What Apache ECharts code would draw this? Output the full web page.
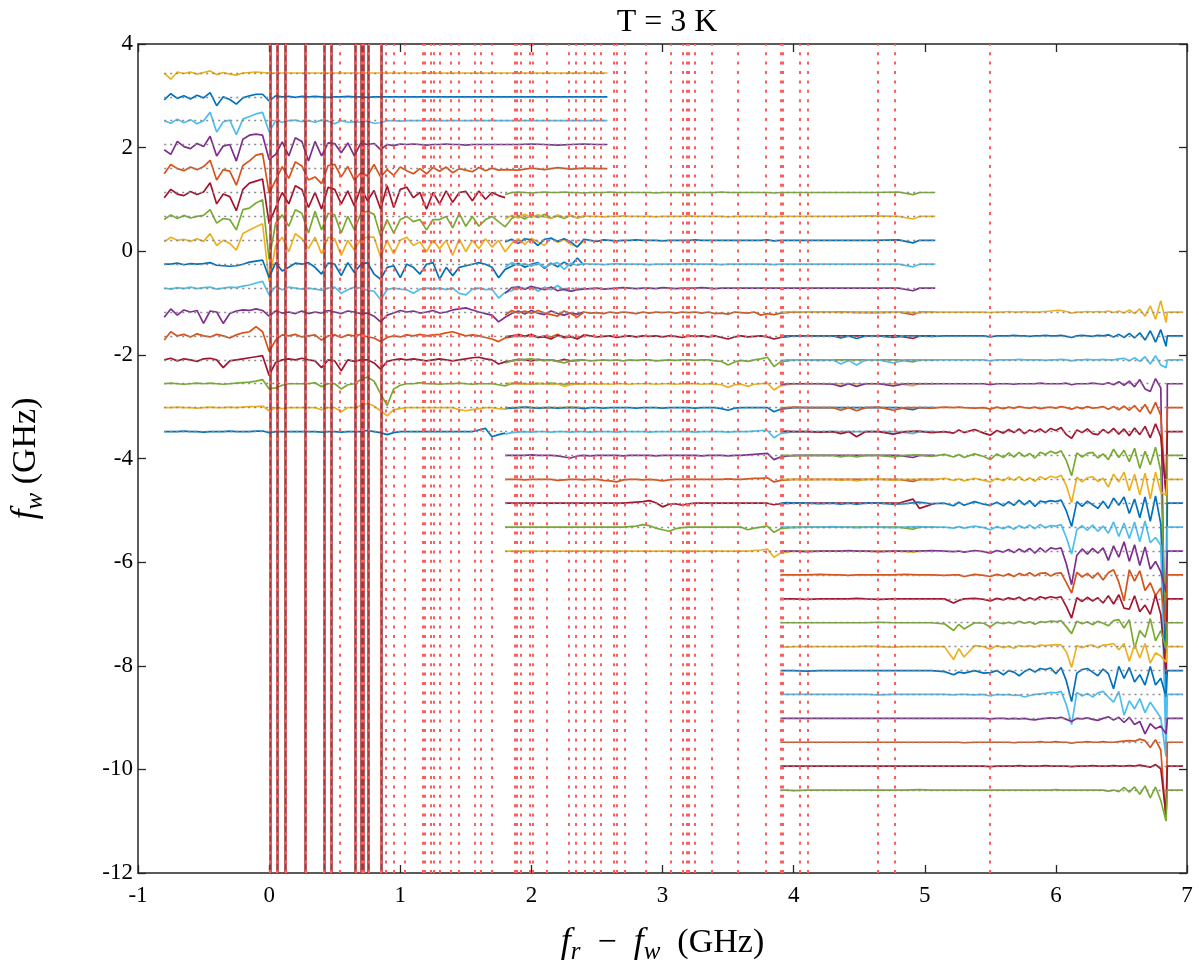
<!DOCTYPE html>
<html><head><meta charset="utf-8">
<script src="https://cdn.jsdelivr.net/npm/echarts/dist/echarts.min.js"></script>
<style>html,body{margin:0;padding:0;background:#fff}#c{width:1199px;height:974px}</style>
</head><body><div id="c"></div>
<script>
// f_w value (GHz) of each trace level, top to bottom
const fwLevels = [3.44, 2.98, 2.52, 2.06, 1.595, 1.134, 0.672, 0.211, -0.250, -0.712, -1.173, -1.634, -2.096, -2.557, -3.018, -3.480, -3.941, -4.402, -4.863, -5.325, -5.786, -6.247, -6.709, -7.170, -7.631, -8.093, -8.554, -9.015, -9.476, -9.938, -10.399];

// x samples (f_r - f_w, GHz) of the three measurement windows
const gridA = [-0.80,-0.75,-0.70,-0.65,-0.60,-0.55,-0.50,-0.45,-0.40,-0.35,-0.30,-0.25,-0.20,-0.15,-0.10,-0.05,0.00,0.05,0.10,0.15,0.20,0.25,0.30,0.35,0.40,0.45,0.50,0.55,0.60,0.65,0.70,0.75,0.80,0.85,0.90,0.95,1.00,1.05,1.10,1.15,1.20,1.25,1.30,1.35,1.40,1.45,1.50,1.55,1.60,1.65,1.70,1.75,1.80];
const tailA = [1.90,2.00,2.10,2.20,2.30,2.40,2.50,2.58];
const tailA2 = [1.85,1.90,1.95,2.00,2.05,2.10,2.15,2.20,2.25,2.30,2.35,2.40];
const gridB = [1.80,1.85,1.90,1.95,2.00,2.05,2.10,2.15,2.20,2.25,2.30,2.35,2.40,2.45,2.50,2.55,2.60,2.65,2.70,2.75,2.80,2.85,2.90,2.95,3.00,3.05,3.10,3.15,3.20,3.25,3.30,3.35,3.40,3.45,3.50,3.55,3.60,3.65,3.70,3.75,3.80,3.85,3.90];
const extB = [4.00,4.20,4.40,4.60,4.80,4.91,4.96,5.08];
const gridC1 = [3.90,3.95,4.00,4.10,4.20,4.30,4.36,4.42,4.48,4.55,4.65,4.76,4.85,4.95,5.05,5.15,5.22,5.26,5.30,5.38,5.45,5.50,5.55];
const gridC2 = [5.60,5.64,5.68,5.72,5.76,5.80,5.84,5.88,5.92,5.96,6.00,6.04,6.08,6.12,6.16,6.20,6.24,6.28,6.32,6.36,6.40,6.44,6.48,6.52,6.56,6.60,6.64,6.68,6.72,6.76,6.80,6.84];
const endC = [6.85, 6.97];
const endDevC = [0, 0];

// trace colours (MATLAB palette keys)
const colorsA = ['Y','B','LB','P','O','DR','G','Y','B','LB','P','O','DR','G','Y','B'];          // levels 0..15
const colorsB = ['G','Y','B','LB','P','O','DR','G','Y','B','LB','P','O','DR','G','Y'];          // levels 5..20
const colorsC = ['Y','B','LB','P','O','DR','G','Y','B','LB','P','O','DR','G','Y','B','LB','P','O','DR','G']; // levels 10..30

// deviations from the level, in units of 0.01 GHz
const devA = [
[0,-12,2,-1,2,-2,1,4,-3,1,-2,-4,0,1,2,1,0, 0,0,0,0,0,0,0,0,0,0,0,0,0,0,0,0,0,0,0,0,0,0,0,0,0,0,0,0,0,0,0,0,0,0,0,0,0],
[-6,6,-3,2,-4,3,-2,8,-17,0,-5,-14,-2,2,5,5,-8, 2,0,1,-1,1,0,1,0,-1,0,0,1,0,0,-1,0,0,0,0,0,0,0,0,0,0,0,0,0,0,0,0,0,0,0,0,0],
[0,-5,3,-4,2,-6,0,16,-22,-2,1,-27,3,8,13,16,-22, 0,-3,0,1,-2,0,-3,1,-1,-6,0,-3,-2,-3,-1,-5,-4,0,0,-1,0,0,0,0,0,0,0,0,0,0,0,0,0,0,0,0],
[-10,-19,6,-4,-8,2,-4,16,-22,-3,0,-32,10,18,20,18,-29, -19,5,-22,13,6,-32,6,-22,3,2,-16,3,-22,3,0,2,-10,0,-2,1,0,1,0,-1,0,0,1,0,0,-1,0,0,0,0,0,0],
[-10,8,0,-4,3,-2,4,16,-22,-2,-5,-32,6,15,26,29,-48, -22,4,-19,13,5,-22,-16,-29,6,8,-16,4,-22,-8,-14,8,-16,-2,-13,3,-4,-10,0,-10,2,-5,3,-8,0,-3,-6,2,-4,1,-3,-2],
[-10,6,-3,-6,2,-4,1,19,-22,-3,-8,-35,6,18,22,26,-60, -29,0,-22,13,6,-29,0,-32,10,6,-22,3,-26,10,-16,4,-32,13,-29,6,10,-10,0,-32,0,-22,3,-19,0,2,-16,3,-13,0,-6,-10],
[-6,3,-4,2,-3,0,2,13,-13,-4,-6,-26,13,16,26,32,-83, -13,3,-19,13,6,-32,10,-26,6,3,-32,0,-26,6,10,4,-38,-6,-32,-6,0,-10,-6,-26,-6,-6,0,-22,6,-19,0,-19,-6,0,-10,-20],
[-3,6,0,2,-2,3,-2,13,-10,0,-6,-19,13,20,26,32,-80, -10,6,-22,13,3,-16,6,-26,6,3,-29,0,-19,3,6,6,-32,0,-26,0,6,-10,-3,-22,0,-16,0,-29,3,-22,0,-16,3,-13,0,-22],
[0,0,2,-1,1,0,1,3,-2,-3,-4,-3,0,4,6,8,-26, 3,-13,-6,2,0,3,-6,-19,2,0,-22,3,-16,0,3,-19,-29,-6,-3,-26,0,-6,-19,0,3,-29,-6,-22,-6,-3,0,3,0,-6,-26,-10],
[0,-2,1,-1,2,-1,1,2,-2,0,2,1,4,6,10,13,-13, 3,-3,2,0,-2,0,-2,-4,0,2,-10,-3,2,0,-4,-6,-22,-3,0,-2,-3,-10,-2,0,-2,0,-3,0,-10,-13,-2,0,-3,-2,-19,-8],
[-10,6,-6,4,0,3,-22,2,0,-22,-3,2,4,3,6,3,-8, 2,-2,0,-3,2,-3,0,-2,3,0,-3,2,0,-3,-2,-8,-19,-6,-2,3,0,2,-2,0,3,-2,0,4,6,8,4,0,-3,-6,-19,-10],
[-8,8,0,3,-2,4,0,-2,3,0,-4,2,6,8,18,8,-30, -8,2,0,3,-2,0,2,-8,0,2,-3,2,0,3,-2,-4,-11,-3,0,-2,2,0,3,0,2,3,6,8,4,0,2,0,-3,-6,-11,-4],
[0,3,-2,2,0,-3,2,3,0,-15,-2,0,2,4,6,8,-30, -5,0,2,0,3,0,-2,-15,0,-2,-21,0,-3,0,0,-6,-18,-3,0,2,0,2,0,-2,0,2,0,-2,0,2,4,5,2,0,-8,-4],
[0,1,0,-1,0,1,0,1,0,-1,0,1,2,3,5,8,-10, -8,-3,0,0,0,0,2,-6,0,0,-10,-2,0,8,13,5,-19,-42,-10,-3,0,0,2,0,0,-1,0,0,1,0,-1,0,0,0,-2,-4],
[0,0,1,0,0,-1,0,1,0,0,1,0,1,2,2,3,-6, 0,-2,0,0,0,0,0,-4,0,0,-8,0,0,4,8,3,-6,-16,-4,-2,0,0,0,0,0,0,0,0,-4,-6,-4,-2,0,0,-2,-3],
[0,0,0,1,0,0,-1,0,0,0,1,0,0,0,1,1,-2, 0,0,0,0,0,0,0,-1,0,0,-1,0,0,0,2,0,-2,-6,-2,0,0,0,0,0,0,0,0,0,0,0,0,3,6,-10,-6,-3]
];
// levels 0..4 continue flat to 2.58
const devAtail = [
[0,0,0,0,0,0,0,0],
[0,0,0,0,0,0,0,0],
[0,0,0,0,0,0,0,0],
[0,1,0,-1,0,1,0,0],
[-3,1,-2,2,-1,1,0,0]
];
// levels 6..14 continue (under window B) to 2.40
const devAtail2 = [
[-4,2,-5,3,-2,4,-3,1,-4,2,-3,0],
[-6,3,-8,4,-3,-10,5,-4,2,-8,-12,-2],
[-4,2,-6,0,3,-8,2,-5,4,-3,12,-2],
[-5,3,-2,4,-6,2,-3,5,-4,-6,-3,0],
[-3,2,-4,3,-2,-5,2,-3,-6,-2,-4,0],
[-2,3,-1,2,-3,0,-2,3,-4,-2,-5,0],
[-2,1,0,-2,1,-1,0,-3,1,-2,-1,0],
[0,1,0,-1,0,0,1,0,-1,0,0,0],
[0,0,1,0,0,-1,0,0,0,1,0,0]
];
const devB = [
[-4,0,1,0,-1,0,1,0,0,1,0,0,-1,0,0,0,1,0,0,0,0,0,0,-1,0,0,0,0,0,0,0,0,0,1,0,0,0,0,0,0,0,-1,0],
[-5,2,-3,4,-2,3,-1,-4,3,-2,2,-3,1,0,0,-1,0,0,1,0,0,0,0,-1,0,0,0,0,1,0,0,0,0,0,-1,0,0,0,0,0,0,-1,0],
[-3,2,-6,3,1,-10,2,4,-2,3,-3,-13,2,0,-2,1,0,-1,0,0,1,0,0,0,-1,0,0,0,0,1,0,0,0,0,0,0,0,0,0,0,1,-1,0],
[-6,3,-2,1,-4,2,-6,0,3,-10,2,-2,1,0,0,-1,0,1,0,0,0,0,-1,0,0,0,0,0,1,0,0,0,0,-1,0,0,0,0,0,0,0,-1,0],
[-10,1,2,-2,3,0,-3,2,-5,-2,-6,-3,-2,-1,0,-2,-1,0,1,0,-1,0,0,-1,1,0,-1,0,0,0,1,0,-1,0,0,0,0,0,0,0,0,0,0],
[-6,3,-2,2,-3,3,-2,-5,-8,2,-3,-10,0,-2,-1,-3,0,-2,0,-1,-3,0,-2,0,-1,0,-2,0,-1,0,-2,0,-3,-2,-4,0,-1,-2,0,-6,-3,-5,-2],
[-2,0,2,-1,3,-3,-2,-6,1,-2,-1,-6,2,0,-2,-1,0,-3,-1,0,-2,0,-1,0,-2,0,-1,-3,0,-1,0,-2,0,-3,-6,-2,0,-2,-1,0,-2,-6,-3],
[-6,-2,0,1,2,0,-1,0,-3,-6,-2,-1,0,-2,-1,0,-1,0,-2,0,-1,0,0,-2,-1,0,-1,0,0,-1,0,0,-2,-3,-10,-4,-1,-3,0,2,5,-13,-4],
[0,1,0,-1,0,1,0,-1,0,-5,-2,0,-1,0,-1,0,-1,0,0,-1,0,0,0,-1,0,0,-1,0,0,0,-1,0,-1,-2,-7,-2,-1,-5,-1,0,1,-12,-4],
[0,-1,0,1,0,-1,0,0,-1,0,0,0,-2,0,0,-1,0,0,0,0,-1,0,0,0,-1,0,0,0,0,-1,0,0,0,-2,-5,-1,0,0,0,0,0,-8,-3],
[-5,-2,-1,0,-1,0,0,-1,0,0,-1,0,0,-1,0,0,0,-1,0,0,0,0,-1,0,0,0,0,0,0,-1,0,0,0,0,-1,0,0,0,1,2,2,-12,-4],
[0,0,0,0,1,0,0,0,-1,-3,-5,-1,0,-1,0,0,0,0,-1,0,0,0,0,-1,0,0,0,0,0,0,-1,0,0,0,-1,0,0,1,2,3,4,-8,-3],
[0,0,0,-1,0,0,0,0,-2,-1,0,0,-1,0,0,-2,-3,-5,-1,0,0,-1,0,-1,-3,-1,0,0,0,0,0,0,0,0,1,0,0,1,2,2,3,-5,-2],
[0,0,0,0,0,0,0,0,0,0,0,0,0,0,0,0,0,0,0,1,2,3,5,1,-7,-2,-1,-4,-1,0,0,0,0,0,0,0,0,0,0,0,0,-3,-1],
[0,0,0,0,0,0,0,0,0,0,0,0,0,0,0,0,0,0,0,1,2,5,3,-2,-5,-8,-3,-1,0,0,0,0,0,0,0,0,0,-5,-2,0,2,-10,-3],
[0,0,0,0,0,0,0,0,0,0,0,0,0,0,0,0,0,0,0,0,0,0,0,0,0,0,0,0,0,0,0,0,0,0,0,0,0,0,1,2,4,-12,-4]
];
const devBext = [
[0,0,0,0,1,-4,0,0],[0,0,0,1,0,-5,0,0],[0,0,0,0,1,-5,0,0],[0,0,0,0,0,-5,0,0],[0,0,0,0,0,-5,0,0],
[0,0,0,-1,0,-5,0,0],[0,0,0,0,0,-5,0,0],[0,0,0,0,0,-4,0,0],[0,0,0,0,0,-4,0,0],[0,0,0,0,0,-4,0,0],
[0,0,0,0,0,-4,0,0],[0,0,0,0,0,-4,0,0],[0,0,0,0,0,-4,0,0],[0,0,0,0,0,8,-10,0],[0,0,0,0,0,-4,0,0],
[0,0,0,0,0,-2,0,0]
];
const devC1 = [
[0,0,1,0,0,0,-1,0,-1,0,0,0,0,-1,0,0,0,0,0,0,0,-1,0],
[-1,0,0,0,0,0,-4,0,-5,0,0,-3,0,0,-1,0,0,0,0,0,0,-2,0],
[-2,0,0,0,-1,0,-8,-1,-10,0,0,-6,0,0,0,0,0,0,0,0,0,-2,0],
[-2,0,0,0,0,-1,-5,0,-5,0,0,-4,0,0,0,0,0,0,0,0,0,-2,0],
[-1,0,1,0,0,0,-5,0,-6,0,1,-5,0,0,-1,1,0,1,0,-1,0,-3,1],
[0,1,0,0,-1,0,-4,0,-10,0,0,-5,0,1,-2,0,-3,3,-2,4,-3,-7,2],
[0,0,-1,0,0,0,-3,0,-3,0,0,-3,0,1,-2,2,-3,2,-4,3,-2,-8,3],
[0,0,0,-1,0,0,-2,0,-3,0,1,-2,0,0,-1,2,-2,1,-3,2,-2,-5,2],
[0,1,0,0,-1,0,-2,0,-2,0,0,-2,-1,2,-1,0,-5,2,-4,3,-2,-4,2],
[0,0,-1,0,0,1,0,0,-1,0,0,-1,0,1,0,0,-2,1,-2,2,-1,-5,1],
[0,0,0,-1,0,0,0,1,0,0,-1,0,0,0,1,0,-1,0,-2,1,-1,-4,1],
[0,0,0,0,1,0,0,-1,0,0,0,0,1,0,0,-1,0,0,-3,1,-1,-3,1],
[0,0,0,-1,0,0,0,0,1,0,-1,0,0,0,0,0,-8,-3,0,1,-1,-4,1],
[0,0,0,0,0,0,0,0,0,0,1,0,0,0,0,-2,-15,-3,-12,0,-1,-8,1],
[0,-1,0,0,0,0,0,0,0,1,0,-1,0,0,0,0,-25,-4,-20,2,0,-5,2],
[0,0,0,-1,0,0,0,0,0,0,0,0,0,0,0,-2,-8,-3,-5,0,-5,-4,0],
[0,0,0,0,0,0,0,0,0,0,-1,0,0,0,0,0,-1,0,0,-1,0,-3,0],
[0,0,0,0,0,0,0,0,0,0,0,0,0,0,0,0,0,0,0,0,0,-1,0],
[0,0,0,0,0,0,0,0,0,0,0,0,0,0,0,0,0,0,-1,0,0,0,0],
[0,0,0,0,0,0,0,0,0,0,0,0,0,0,0,0,0,0,0,0,0,-1,0],
[0,0,-1,0,0,0,0,0,0,0,0,0,0,1,0,0,0,0,0,0,0,0,0]
];
const devC2 = [
[0,1,0,0,1,0,0,0,1,2,3,3,1,-2,0,0,1,0,1,0,2,-1,2,-2,4,-3,6,-8,12,-14,22,-20],
[0,0,1,0,0,-1,0,0,1,0,0,1,-1,-3,0,1,0,-1,1,0,2,-2,3,-3,5,-4,6,-8,10,-12,12,-20],
[0,0,0,1,0,0,0,0,-1,0,0,1,0,-2,0,0,1,0,0,1,0,0,2,3,-2,4,-3,6,-8,8,-10,-15],
[0,0,-1,0,0,0,0,1,0,0,0,0,1,-2,0,0,0,1,0,-1,2,-2,4,-3,5,-6,8,-10,-15,10,-8,-650],
[-2,1,-1,2,0,-1,1,-2,0,1,-1,2,0,-3,1,-2,2,-1,0,2,-3,2,-4,3,-5,4,-8,6,-12,10,-15,-170],
[-3,4,-2,5,-4,3,-1,5,-2,6,2,8,-6,-13,3,-2,5,-4,-6,4,-3,6,-5,5,-8,7,-6,10,-12,15,-10,-118],
[-4,5,-3,6,-2,4,-5,6,2,8,4,9,-10,-39,5,-3,4,6,-5,3,-8,12,-4,10,-12,14,-25,8,-18,16,-30,-357],
[-3,4,-2,5,-3,3,-4,5,0,6,3,8,-12,-45,4,-5,3,5,-4,2,-15,10,-5,14,-22,10,-30,12,-38,14,-25,-30],
[-5,3,-4,6,-3,5,-6,4,2,5,3,6,-15,-45,3,-6,4,-3,-10,4,-10,10,-4,12,-20,8,-28,12,-35,14,-40,-318],
[-3,2,-4,3,-2,4,-3,5,-1,3,2,5,-20,-52,-5,3,-6,4,-8,2,-12,10,-18,8,-22,10,-28,12,-30,-20,-35,-436],
[-2,3,-3,4,-2,5,-4,6,-2,6,4,6,-25,-65,-8,4,-6,5,-4,6,-18,10,-12,18,-20,12,-28,8,-35,-20,-40,-80],
[-2,2,-3,3,-1,4,-2,3,4,-2,3,4,-15,-35,5,-4,3,-6,4,-10,4,10,-14,-50,10,-12,8,-30,-15,-40,-25,-100],
[-2,2,-1,3,-3,2,-2,4,1,4,2,4,-15,-37,2,-5,3,-4,2,-8,6,-10,8,-18,-20,6,-25,-12,-30,8,-30,-145],
[-2,1,-2,3,-1,2,-3,2,1,3,2,4,-8,-21,3,-2,2,-4,3,-1,-6,4,6,-10,6,-50,-15,-28,8,-35,-15,-50],
[-2,1,-3,2,0,2,-1,3,2,3,4,3,-10,-40,2,-2,2,3,-2,3,4,6,-6,6,-28,4,-22,6,-32,-12,-18,-30],
[-8,0,-3,-10,-2,3,-3,4,2,5,-6,6,-20,-60,-5,2,4,-3,-10,3,-6,-35,8,-15,6,-22,-8,-28,8,-28,-15,-50],
[-1,0,-2,-1,-5,-2,0,1,2,4,3,6,-20,-58,4,-3,2,-5,3,6,-5,-15,6,-40,-12,-28,-8,-35,-15,-30,-45,-120],
[0,-1,0,-1,0,-2,-3,-1,0,1,0,2,-2,-6,0,-1,1,-2,-4,0,3,-3,2,-8,2,-12,-6,-30,-10,-20,-15,-30],
[0,0,-1,0,0,0,0,1,0,0,1,0,0,-2,0,0,1,0,0,1,0,0,1,2,3,2,6,3,-10,5,-15,-150],
[0,0,0,1,0,0,0,0,1,0,0,0,0,-1,0,0,0,1,0,0,0,1,0,0,1,0,2,0,-2,3,-5,-95],
[0,0,0,0,0,0,0,0,0,0,1,0,0,0,0,0,0,0,0,0,-2,0,-3,5,-4,6,-8,8,-15,6,-20,-60]
];

// vertical marker lines (f_r - f_w, GHz)
const solidX = [0.005, 0.061, 0.126, 0.279, 0.419, 0.472, 0.657, 0.705, 0.720, 0.756, 0.855];
const dottedX = [0.005, 0.061, 0.126, 0.279, 0.419, 0.472, 0.538, 0.657, 0.705, 0.720, 0.756, 0.855, 0.893, 0.954, 1.033, 1.173, 1.187, 1.236, 1.253, 1.299, 1.383, 1.444, 1.571, 1.612, 1.701, 1.871, 1.889, 1.922, 1.990, 2.008, 2.117, 2.285, 2.340, 2.404, 2.475, 2.531, 2.625, 2.650, 2.714, 2.874, 3.064, 3.151, 3.186, 3.199, 3.249, 3.372, 3.575, 3.791, 3.900, 3.918, 4.048, 4.109, 4.638, 4.770, 5.497];

const xTicks = {min: -1, max: 7, step: 1};
const yTicks = {min: -12, max: 4, step: 2};

const PAL = {Y:'#EDB120', B:'#0072BD', LB:'#4DBEEE', P:'#7E2F8E', O:'#D95319', DR:'#A2142F', G:'#77AC30'};
const series = [];
const baseCoords = [];
function addTrace(xs, devs, level, col) {
  const data = xs.map((x, i) => [x, level + (devs[i] || 0) * 0.01]);
  series.push({type:'line', data: data, showSymbol:false, symbol:'none', silent:true, animation:false, z:2,
    lineStyle:{color:PAL[col], width:1.7}, itemStyle:{color:PAL[col]}});
  baseCoords.push({coords:[[xs[0], level], [xs[xs.length-1], level]]});
}
for (let k = 0; k < 16; k++) {
  let xs = gridA, d = devA[k];
  if (k < 5) { xs = gridA.concat(tailA); d = devA[k].concat(devAtail[k]); }
  else if (k >= 6 && k <= 14) { xs = gridA.concat(tailA2); d = devA[k].concat(devAtail2[k-6]); }
  addTrace(xs, d, fwLevels[k], colorsA[k]);
}
for (let k = 5; k <= 20; k++) {
  addTrace(gridB.concat(extB), devB[k-5].concat(devBext[k-5]), fwLevels[k], colorsB[k-5]);
}
for (let k = 10; k <= 30; k++) {
  addTrace(gridC1.concat(gridC2, endC), devC1[k-10].concat(devC2[k-10], endDevC), fwLevels[k], colorsC[k-10]);
}
series.push({type:'lines', coordinateSystem:'cartesian2d', silent:true, animation:false, z:3,
  lineStyle:{color:'#8a8a8a', width:1.4, type:[2,4], opacity:1}, data: baseCoords});
series.push({type:'lines', coordinateSystem:'cartesian2d', silent:true, animation:false, z:5,
  lineStyle:{color:'#A12E33', width:2.6, opacity:0.95}, data: solidX.map(x => ({coords:[[x, yTicks.min],[x, yTicks.max]]}))});
series.push({type:'lines', coordinateSystem:'cartesian2d', silent:true, animation:false, z:6,
  lineStyle:{color:'#FF5C5C', width:2, type:[3,6.4], opacity:1}, data: dottedX.map(x => ({coords:[[x, yTicks.min],[x, yTicks.max]]}))});

const FONT = 'Liberation Serif';
const axisLine = {show:true, onZero:false, lineStyle:{color:'#262626', width:1.5}};
const axisTick = {show:true, inside:true, length:8, lineStyle:{color:'#262626', width:1.3}};
const richName = {
  i:{fontFamily:FONT, fontStyle:'italic', fontSize:36, color:'#000', lineHeight:44},
  s:{fontFamily:FONT, fontStyle:'italic', fontSize:25, color:'#000', lineHeight:24, verticalAlign:'bottom'},
  n:{fontFamily:FONT, fontSize:34, color:'#000', lineHeight:44}
};
const chart = echarts.init(document.getElementById('c'), null, {renderer:'canvas'});
chart.setOption({
  animation:false,
  backgroundColor:'#ffffff',
  title:{text:'T = 3 K', left:662, top:2, textAlign:'center',
    textStyle:{fontFamily:FONT, fontSize:32, fontWeight:'normal', color:'#000'}},
  grid:{left:136, top:44, width:1051, height:829},
  xAxis:[
    {type:'value', min:xTicks.min, max:xTicks.max, interval:xTicks.step, position:'bottom',
     axisLine:axisLine, axisTick:axisTick, splitLine:{show:false},
     axisLabel:{fontFamily:FONT, fontSize:23, color:'#000', margin:11},
     name:'{i|f}{s|r}{n|  −  }{i|f}{s|w}{n|  (GHz)}', nameLocation:'middle', nameGap:48,
     nameTextStyle:{rich:richName}},
    {type:'value', min:xTicks.min, max:xTicks.max, interval:xTicks.step, position:'top',
     axisLine:axisLine, axisTick:axisTick, splitLine:{show:false}, axisLabel:{show:false}}
  ],
  yAxis:[
    {type:'value', min:yTicks.min, max:yTicks.max, interval:yTicks.step, position:'left',
     axisLine:axisLine, axisTick:axisTick, splitLine:{show:false},
     axisLabel:{fontFamily:FONT, fontSize:23, color:'#000', margin:5},
     name:'{i|f}{s|w}{n| (GHz)}', nameLocation:'middle', nameGap:90, nameRotate:90,
     nameTextStyle:{rich:richName}},
    {type:'value', min:yTicks.min, max:yTicks.max, interval:yTicks.step, position:'right',
     axisLine:axisLine, axisTick:axisTick, splitLine:{show:false}, axisLabel:{show:false}}
  ],
  series: series
});
</script>
</body></html>
